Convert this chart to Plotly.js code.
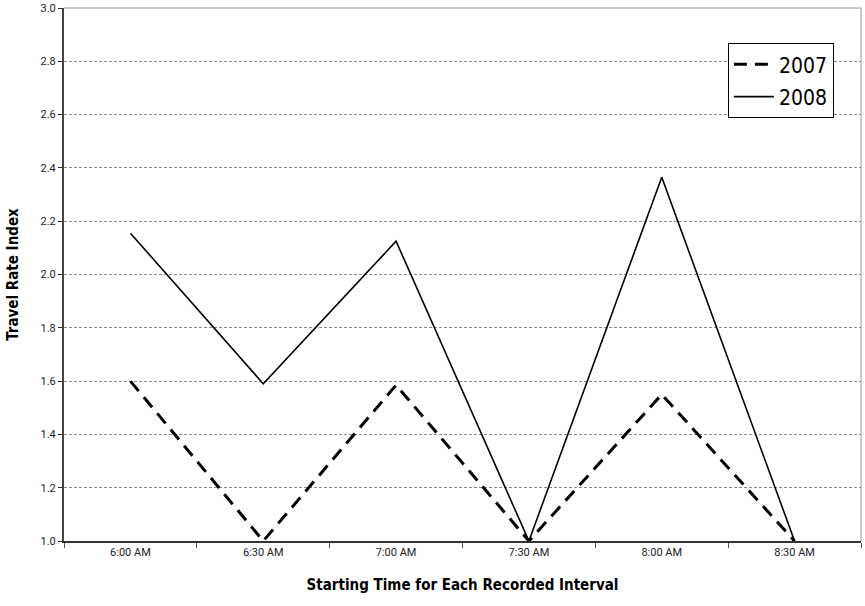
<!DOCTYPE html>
<html>
<head>
<meta charset="utf-8">
<script src="https://cdn.plot.ly/plotly-3.0.1.min.js"></script>
<style>html,body{margin:0;padding:0;background:#fff;}#chart{width:865px;height:606px;}</style>
</head>
<body>
<div id="chart"></div>
<script>
const categories = ["6:00 AM", "6:30 AM", "7:00 AM", "7:30 AM", "8:00 AM", "8:30 AM"];
const values2007 = [1.60, 1.00, 1.585, 1.00, 1.55, 1.00];
const values2008 = [2.155, 1.59, 2.125, 1.00, 2.365, 1.00];
const yTicks = [1.0, 1.2, 1.4, 1.6, 1.8, 2.0, 2.2, 2.4, 2.6, 2.8, 3.0];

const font = "'Liberation Sans Narrow', 'DejaVu Sans Condensed', Arial, sans-serif";
const tickFont = "Roboto, 'Liberation Sans', Arial, sans-serif";

const traces = [
  {x: categories, y: values2007, name: "2007", type: "scatter", mode: "lines", legendgroup: "a",
   line: {color: "#000", width: 3, dash: "13px,8px"}, cliponaxis: false},
  {x: categories, y: values2008, name: "2008", type: "scatter", mode: "lines", legendgroup: "b",
   line: {color: "#000", width: 1.6}, cliponaxis: false}
];

const layout = {
  width: 865, height: 606,
  margin: {l: 64, r: 4, t: 8, b: 65},
  paper_bgcolor: "#fff", plot_bgcolor: "#fff",
  font: {family: font, color: "#222"},
  showlegend: true,
  legend: {x: 0.833, y: 0.934, xanchor: "left", yanchor: "top",
    bgcolor: "#fff", bordercolor: "#000", borderwidth: 1,
    font: {family: font, size: 21, color: "#000"}, tracegroupgap: 2,
    itemwidth: 40},
  xaxis: {
    type: "category", range: [-0.5, 5.5],
    tickson: "boundaries", ticks: "outside", ticklen: 5, tickcolor: "#555", tickwidth: 1,
    showline: true, linecolor: "#333", linewidth: 1.5,
    showgrid: false, zeroline: false,
    tickfont: {family: tickFont, size: 11, color: "#222"},
    title: {text: "<b>Starting Time for Each Recorded Interval</b>", font: {family: font, size: 15, color: "#000"}, standoff: 22}
  },
  yaxis: {
    range: [1.0, 3.0], tickvals: yTicks, ticktext: yTicks.map(v => v.toFixed(1)),
    ticks: "outside", ticklen: 4, tickcolor: "#333", tickwidth: 1,
    showline: true, linecolor: "#444", linewidth: 2,
    showgrid: true, gridcolor: "#888", griddash: "3px,2px", gridwidth: 1,
    zeroline: false,
    tickfont: {family: tickFont, size: 11, color: "#222"},
    title: {text: "<b>Travel Rate Index</b>", font: {family: font, size: 15, color: "#000"}, standoff: 18}
  },
  shapes: [
    {type: "line", xref: "paper", yref: "paper", x0: 0, x1: 1, y0: 1, y1: 1, line: {color: "#999", width: 1}},
    {type: "line", xref: "paper", yref: "paper", x0: 1, x1: 1, y0: 0, y1: 1, line: {color: "#999", width: 1}}
  ]
};

Plotly.newPlot("chart", traces, layout, {displayModeBar: false, staticPlot: true});
</script>
</body>
</html>
